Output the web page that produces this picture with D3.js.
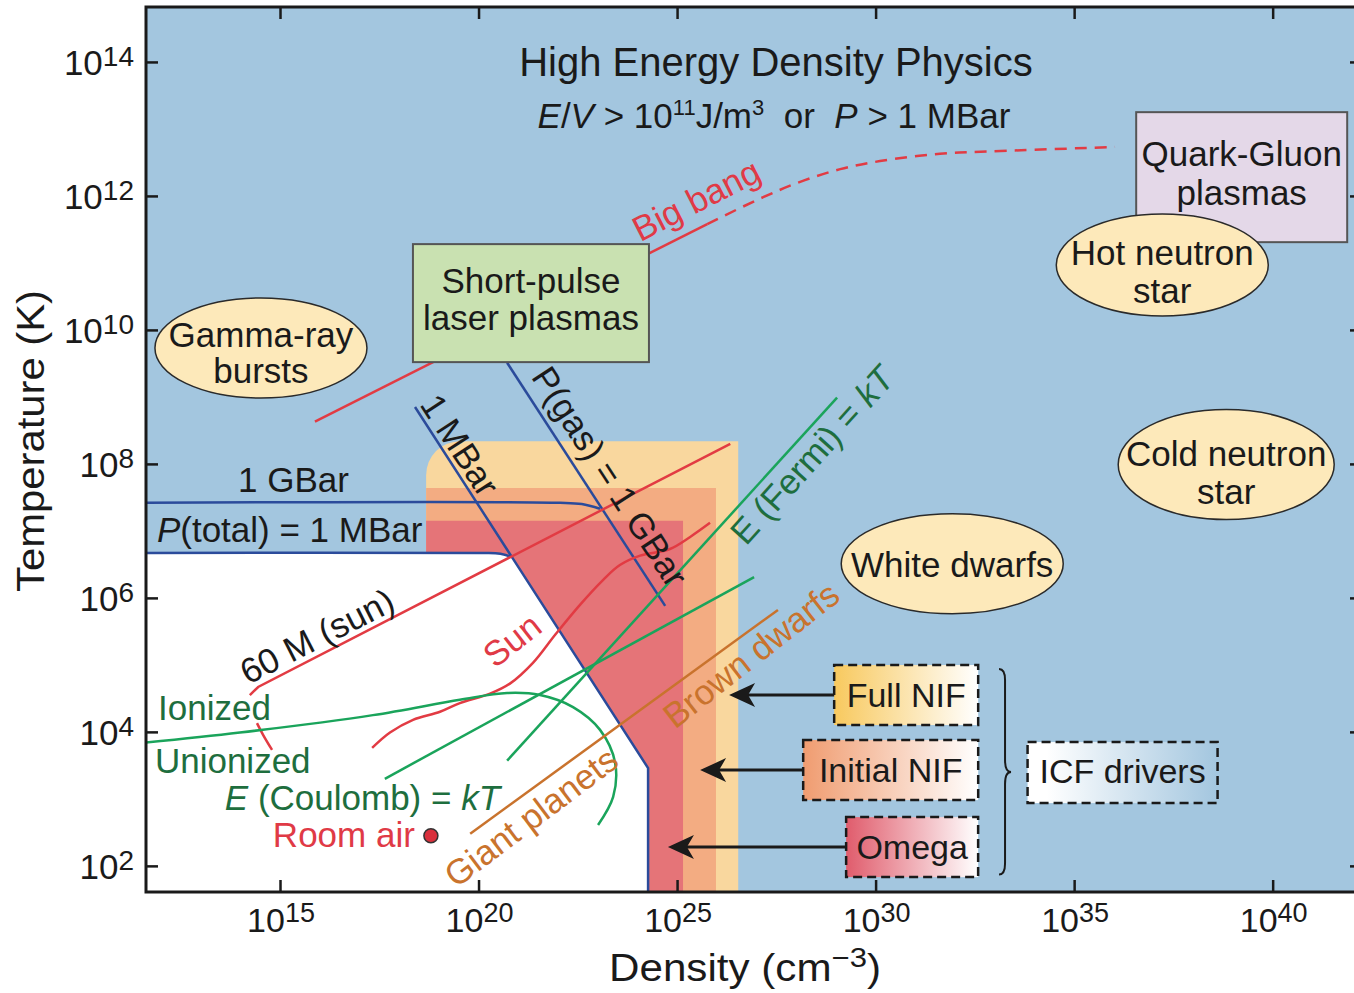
<!DOCTYPE html>
<html>
<head>
<meta charset="utf-8">
<script src="https://cdn.jsdelivr.net/npm/d3@7"></script>
<style>
  body { margin: 0; background: #fff; }
  svg { display: block; font-family: "Liberation Sans", Arial, sans-serif; }
</style>
</head>
<body>
<div id="chart"></div>
<script>
// all values are exponents: x = log10(density in cm^-3), y = log10(T in K)
var xTicks = [15, 20, 25, 30, 35, 40];
var yTicks = [2, 4, 6, 8, 10, 12, 14];

// pressure boundaries
var pTotal   = [[11.62, 6.67], [20.04, 6.67], [20.55, 6.66], [20.84, 6.61]];
var gBar     = [[11.62, 7.42], [22.05, 7.42], [22.60, 7.40], [23.06, 7.33]];
var mBarLine = [[18.40, 8.85], [24.27, 3.46], [24.27, 1.61]];
var pGasLine = [[20.72, 9.51], [24.70, 5.88]];

// ICF driver regions
var icfNames      = ["Full NIF", "Initial NIF", "Omega"];
var icfMaxDensity = [26.54, 25.98, 25.15];
var icfMaxTemp    = [8.34, 7.64, 7.15];
var icfMinDensity = 18.68;
var icfArrowTip   = [26.31, 25.58, 24.77];
var icfLabelAt    = [[30.77, 4.55], [30.38, 3.43], [30.92, 2.28]];

// red tracks
var pulseLine  = [[15.88, 8.63], [25.76, 11.58]];
var bigBang    = [[25.76, 11.58], [27.09, 11.96], [28.10, 12.21], [29.11, 12.40],
                  [30.11, 12.52], [31.62, 12.63], [33.14, 12.67], [36.03, 12.73]];
var sun60      = [[14.24, 4.55], [14.45, 4.67], [26.34, 8.30]];
var ionTick    = [[14.42, 4.13], [14.57, 3.96], [14.80, 3.73]];
var sunTrack   = [[17.32, 3.76], [17.77, 3.99], [18.35, 4.18], [19.03, 4.30], [19.53, 4.43],
                  [20.29, 4.57], [20.79, 4.72], [21.37, 5.03], [21.93, 5.45], [22.56, 5.90],
                  [23.14, 6.27], [23.56, 6.49], [24.07, 6.63], [24.82, 6.73], [25.33, 6.91],
                  [25.83, 7.12]];
var roomAir    = [18.80, 2.45];

// green and orange lines
var ionBoundary = [[11.62, 3.84], [13.99, 3.99], [17.34, 4.25], [19.53, 4.48], [20.72, 4.58],
                   [21.55, 4.55], [22.38, 4.37], [23.06, 4.03], [23.44, 3.54], [23.39, 3.03],
                   [23.01, 2.61]];
var coulomb  = [[17.64, 3.30], [26.94, 6.31]];
var fermi    = [[20.72, 3.57], [29.03, 8.99]];
var planets  = [[19.79, 2.48], [27.54, 5.82]];

var W = 1354, H = 993;
var x = d3.scaleLinear().domain([11.625, 42.25]).range([146, 1362]);
var y = d3.scaleLinear().domain([1.61, 14.82]).range([892, 7]);

var svg = d3.select("#chart").append("svg")
    .attr("width", W).attr("height", H);

svg.append("defs").append("clipPath").attr("id", "plot")
  .append("rect")
    .attr("x", x.range()[0]).attr("y", y.range()[1])
    .attr("width", x.range()[1] - x.range()[0])
    .attr("height", y.range()[0] - y.range()[1]);

var g = svg.append("g").attr("clip-path", "url(#plot)");

var line = d3.line().x(d => x(d[0])).y(d => y(d[1]));
var curve = d3.line().x(d => x(d[0])).y(d => y(d[1])).curve(d3.curveCatmullRom.alpha(0.5));

function rich(sel, parts, shift, supSize) {
  var cur = 0;
  parts.forEach(function (p) {
    var ts = sel.append("tspan").text(p.t);
    var want = p.sup ? -shift : 0;
    if (want !== cur) { ts.attr("dy", want - cur); cur = want; }
    if (p.sup) ts.attr("font-size", supSize);
    if (p.i) ts.attr("font-style", "italic");
  });
}

// background
g.append("rect")
  .attr("x", 146).attr("y", 0).attr("width", W).attr("height", H)
  .attr("fill", "#a3c6df");

// ICF regions, biggest first
var icfFill = ["#f9d79e", "#f3ac82", "#e57478"];
icfNames.forEach(function (n, i) {
  var x0 = x(icfMinDensity), x1 = x(icfMaxDensity[i]);
  var y0 = y(icfMaxTemp[i]), y1 = y.range()[0];
  var r = i === 0 ? 34 : 0;
  g.append("path")
    .attr("d", "M" + x0 + "," + y1 + "L" + x0 + "," + (y0 + r) +
      (r ? "A" + r + "," + r + " 0 0 1 " + (x0 + r) + "," + y0 : "") +
      "L" + x1 + "," + y0 + "L" + x1 + "," + y1 + "Z")
    .attr("fill", icfFill[i]);
});

// unionized / low-pressure region
var whiteZone = pTotal.concat([mBarLine[1], mBarLine[2], [11.62, 1.61]]);
g.append("path").attr("d", line(whiteZone) + "Z").attr("fill", "#fff");

// blue pressure lines
[[pTotal, curve], [gBar, curve], [mBarLine, line], [pGasLine, line]].forEach(function (p) {
  g.append("path").attr("d", p[1](p[0]))
    .attr("fill", "none").attr("stroke", "#2b4b9b").attr("stroke-width", 2.5);
});

var red = "#e23b43", green = "#1aa45b", brown = "#c9732d";
function track(data, gen, color, dash) {
  g.append("path").attr("d", gen(data))
    .attr("fill", "none").attr("stroke", color).attr("stroke-width", 2.5)
    .attr("stroke-dasharray", dash || null);
}
track(pulseLine, line, red);
track(bigBang, curve, red, "12,8");
track(sun60, line, red);
track(ionTick, curve, red);
track(sunTrack, curve, red);
track(ionBoundary, curve, green);
track(coulomb, line, green);
track(fermi, line, green);
track(planets, line, brown);

g.append("circle")
  .attr("cx", x(roomAir[0])).attr("cy", y(roomAir[1])).attr("r", 7)
  .attr("fill", "#d9303c").attr("stroke", "#333").attr("stroke-width", 1.5);

// boxes and ellipses
var notes = [
  { shape: "ellipse", lines: ["Gamma-ray", "bursts"], at: [14.52, 9.73], rx: 106, ry: 50, base: [-1, 35] },
  { shape: "rect", lines: ["Short-pulse", "laser plasmas"], at: [21.32, 10.40], w: 236, h: 118, base: [-10, 27], fill: "#c9e1b1" },
  { shape: "rect", lines: ["Quark-Gluon", "plasmas"], at: [39.22, 12.28], w: 211, h: 130, base: [-11, 28], fill: "#e4d8e8" },
  { shape: "ellipse", lines: ["Hot neutron", "star"], at: [37.22, 10.97], rx: 106, ry: 51, base: [0, 38] },
  { shape: "ellipse", lines: ["Cold neutron", "star"], at: [38.83, 7.99], rx: 108, ry: 55, base: [1, 39] },
  { shape: "ellipse", lines: ["White dwarfs"], at: [31.93, 6.51], rx: 111, ry: 50, base: [13] }
];
notes.forEach(function (n) {
  var cx = x(n.at[0]), cy = y(n.at[1]);
  if (n.shape === "ellipse") {
    g.append("ellipse").attr("cx", cx).attr("cy", cy).attr("rx", n.rx).attr("ry", n.ry)
      .attr("fill", "#fde9ba").attr("stroke", "#2a2a2a").attr("stroke-width", 1.5);
  } else {
    g.append("rect").attr("x", cx - n.w / 2).attr("y", cy - n.h / 2)
      .attr("width", n.w).attr("height", n.h)
      .attr("fill", n.fill).attr("stroke", "#555").attr("stroke-width", 2);
  }
  n.lines.forEach(function (t, k) {
    g.append("text").attr("x", cx).attr("y", cy + n.base[k])
      .attr("text-anchor", "middle").attr("font-size", 35).attr("fill", "#1a1a1a")
      .text(t);
  });
});

// ICF driver labels
var defs = svg.select("defs");
var icfGrad = ["#f8c95e", "#f09c70", "#e05c6c"];
var icfW = [144, 175, 132];
icfNames.forEach(function (n, i) {
  var gr = defs.append("linearGradient").attr("id", "icf" + i);
  gr.append("stop").attr("offset", "0").attr("stop-color", icfGrad[i]);
  gr.append("stop").attr("offset", "1").attr("stop-color", "#fff");
  var cx = x(icfLabelAt[i][0]), cy = y(icfLabelAt[i][1]);
  g.append("rect").attr("x", cx - icfW[i] / 2).attr("y", cy - 30)
    .attr("width", icfW[i]).attr("height", 60)
    .attr("fill", "url(#icf" + i + ")").attr("stroke", "#1a1a1a")
    .attr("stroke-width", 2.5).attr("stroke-dasharray", "9,5");
  g.append("text").attr("x", cx).attr("y", cy + 12)
    .attr("text-anchor", "middle").attr("font-size", 34).attr("fill", "#1a1a1a").text(n);
  var tx = x(icfArrowTip[i]), bx = cx - icfW[i] / 2;
  g.append("line").attr("x1", bx).attr("y1", cy).attr("x2", tx + 18).attr("y2", cy)
    .attr("stroke", "#1a1a1a").attr("stroke-width", 3);
  g.append("path")
    .attr("d", "M" + tx + "," + cy + "l26,-12l-7,12l7,12z")
    .attr("fill", "#1a1a1a");
});

var icfG = defs.append("linearGradient").attr("id", "icfAll");
icfG.append("stop").attr("offset", "0.1").attr("stop-color", "#fff");
icfG.append("stop").attr("offset", "1").attr("stop-color", "#a3c6df");
var dcx = x(36.22), dcy = y(3.40);
g.append("rect").attr("x", dcx - 95).attr("y", dcy - 30).attr("width", 190).attr("height", 61)
  .attr("fill", "url(#icfAll)").attr("stroke", "#1a1a1a")
  .attr("stroke-width", 2.5).attr("stroke-dasharray", "9,5");
g.append("text").attr("x", dcx).attr("y", dcy + 11)
  .attr("text-anchor", "middle").attr("font-size", 34).attr("fill", "#1a1a1a").text("ICF drivers");

// brace
var bx0 = x(33.26), bt = y(4.94), bb = y(1.87), bm = y(3.40);
g.append("path")
  .attr("d", "M" + (bx0 - 6) + "," + bt + "Q" + bx0 + "," + bt + " " + bx0 + "," + (bt + 11) +
    "L" + bx0 + "," + (bm - 12) + "Q" + bx0 + "," + bm + " " + (bx0 + 6) + "," + bm +
    "Q" + bx0 + "," + bm + " " + bx0 + "," + (bm + 12) +
    "L" + bx0 + "," + (bb - 11) + "Q" + bx0 + "," + bb + " " + (bx0 - 6) + "," + bb)
  .attr("fill", "none").attr("stroke", "#1a1a1a").attr("stroke-width", 2);

// labels
var textRed = "#e03a46", textGreen = "#1e6e3e", ink = "#1a1a1a";
var labels = [
  { at: [15.34, 7.58], anchor: "middle", color: ink, parts: [{ t: "1 GBar" }] },
  { at: [11.90, 6.84], anchor: "start", color: ink, parts: [{ t: "P", i: 1 }, { t: "(total) = 1 MBar" }] },
  { at: [11.93, 4.18], anchor: "start", color: textGreen, parts: [{ t: "Ionized" }] },
  { at: [11.85, 3.39], anchor: "start", color: textGreen, parts: [{ t: "Unionized" }] },
  { at: [13.61, 2.84], anchor: "start", color: textGreen, parts: [{ t: "E", i: 1 }, { t: " (Coulomb) = " }, { t: "kT", i: 1 }] },
  { at: [14.82, 2.28], anchor: "start", color: textRed, parts: [{ t: "Room air" }] },
  { at: [25.48, 11.94], rot: -27, color: textRed, parts: [{ t: "Big bang" }] },
  { at: [15.93, 5.43], rot: -27, color: ink, parts: [{ t: "60 M (sun)" }] },
  { at: [20.84, 5.37], rot: -38, color: textRed, parts: [{ t: "Sun" }] },
  { at: [21.32, 2.73], rot: -37, color: brown, parts: [{ t: "Giant planets" }] },
  { at: [26.86, 5.15], rot: -38, color: brown, parts: [{ t: "Brown dwarfs" }] },
  { at: [19.53, 8.28], rot: 57, color: ink, parts: [{ t: "1 MBar" }] },
  { at: [23.31, 7.81], rot: 57, color: ink, parts: [{ t: "P(gas) = 1 GBar" }] },
  { at: [28.40, 8.13], rot: -48, color: textGreen, parts: [{ t: "E (Fermi) = " }, { t: "kT", i: 1 }] }
];
labels.forEach(function (l) {
  var t = g.append("text").attr("font-size", 35).attr("fill", l.color);
  if (l.rot !== undefined) {
    t.attr("transform", "translate(" + x(l.at[0]) + "," + y(l.at[1]) + ") rotate(" + l.rot + ")")
      .attr("text-anchor", "middle").attr("dy", "0.35em");
  } else {
    t.attr("x", x(l.at[0])).attr("y", y(l.at[1])).attr("text-anchor", l.anchor);
  }
  rich(t, l.parts, 12, 24);
});

// title
g.append("text").attr("x", x(27.49)).attr("y", y(13.79))
  .attr("text-anchor", "middle").attr("font-size", 40).attr("fill", ink)
  .text("High Energy Density Physics");
var sub = g.append("text").attr("x", x(27.44)).attr("y", y(13.01))
  .attr("text-anchor", "middle").attr("font-size", 35).attr("fill", ink);
rich(sub, [{ t: "E", i: 1 }, { t: "/" }, { t: "V", i: 1 }, { t: " > 10" }, { t: "11", sup: 1 },
  { t: "J/m" }, { t: "3", sup: 1 }, { t: "\u00a0\u00a0or\u00a0\u00a0" }, { t: "P", i: 1 }, { t: " > 1 MBar" }], 13, 22);

// axes: inward ticks on all four sides
function ticks(axis, tr) {
  svg.append("g").attr("transform", tr)
    .call(axis.tickSize(-12).tickSizeOuter(0).tickFormat(""))
    .call(s => s.select(".domain").remove())
    .selectAll("line").attr("stroke", ink).attr("stroke-width", 2.5);
}
ticks(d3.axisBottom(x).tickValues(xTicks), "translate(0," + y.range()[0] + ")");
ticks(d3.axisTop(x).tickValues(xTicks), "translate(0," + y.range()[1] + ")");
ticks(d3.axisLeft(y).tickValues(yTicks), "translate(" + x.range()[0] + ",0)");
ticks(d3.axisRight(y).tickValues(yTicks), "translate(" + x.range()[1] + ",0)");

svg.append("rect")
  .attr("x", x.range()[0]).attr("y", y.range()[1])
  .attr("width", x.range()[1] - x.range()[0]).attr("height", y.range()[0] - y.range()[1])
  .attr("fill", "none").attr("stroke", ink).attr("stroke-width", 3);

xTicks.forEach(function (v) {
  var t = svg.append("text").attr("x", x(v) + 1).attr("y", 932)
    .attr("text-anchor", "middle").attr("font-size", 34).attr("fill", ink);
  rich(t, [{ t: "10" }, { t: String(v), sup: 1 }], 10, 27);
});
yTicks.forEach(function (v) {
  var t = svg.append("text").attr("x", 134).attr("y", y(v) + 13)
    .attr("text-anchor", "end").attr("font-size", 35).attr("fill", ink);
  rich(t, [{ t: "10" }, { t: String(v), sup: 1 }], 9, 28);
});

var xl = svg.append("text").attr("x", 609).attr("y", 981)
  .attr("font-size", 38).attr("fill", ink)
  .attr("textLength", 272).attr("lengthAdjust", "spacingAndGlyphs");
rich(xl, [{ t: "Density (cm" }, { t: "\u22123", sup: 1 }, { t: ")" }], 14, 28);

svg.append("text").attr("transform", "translate(44,441) rotate(-90)")
  .attr("text-anchor", "middle").attr("font-size", 38).attr("fill", ink)
  .attr("textLength", 302).attr("lengthAdjust", "spacingAndGlyphs")
  .text("Temperature (K)");
</script>
</body>
</html>
